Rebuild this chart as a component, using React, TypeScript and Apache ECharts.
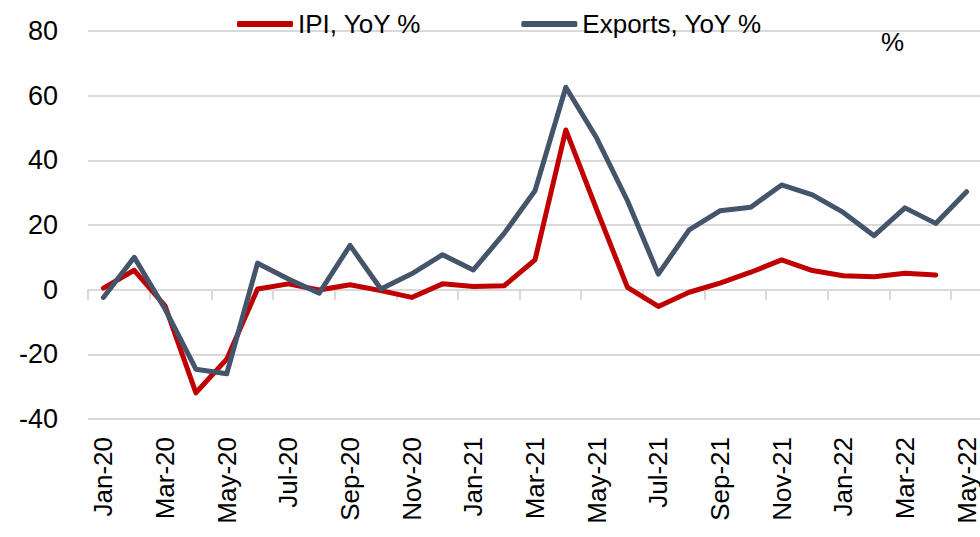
import React, { useEffect, useRef } from "react";
import * as echarts from "echarts";

const categories = [
  "Jan-20", "Feb-20", "Mar-20", "Apr-20", "May-20", "Jun-20", "Jul-20", "Aug-20", "Sep-20", "Oct-20", "Nov-20", "Dec-20",
  "Jan-21", "Feb-21", "Mar-21", "Apr-21", "May-21", "Jun-21", "Jul-21", "Aug-21", "Sep-21", "Oct-21", "Nov-21", "Dec-21",
  "Jan-22", "Feb-22", "Mar-22", "Apr-22", "May-22",
];

const ipiYoY: (number | null)[] = [
  0.5, 6.0, -5.0, -31.9, -21.5, 0.2, 1.8, -0.1, 1.5, -0.3, -2.4, 1.8,
  1.0, 1.2, 9.2, 49.4, 24.8, 0.7, -5.2, -0.8, 2.0, 5.4, 9.2, 5.9,
  4.3, 4.0, 5.1, 4.5, null,
];

const exportsYoY: number[] = [
  -2.4, 10.0, -6.0, -24.6, -26.0, 8.2, 3.3, -1.1, 13.7, 0.2, 4.9, 10.8,
  6.1, 17.4, 30.6, 62.6, 46.9, 27.5, 4.8, 18.5, 24.4, 25.5, 32.4, 29.3,
  23.9, 16.7, 25.3, 20.5, 30.3,
];

const seriesNames = ["IPI, YoY %", "Exports, YoY %"];
const yTicks = { min: -40, max: 80, interval: 20 };

export default function App() {
  const ref = useRef<HTMLDivElement>(null);

  useEffect(() => {
    if (!ref.current) return;
    const chart = echarts.init(ref.current, null, { renderer: "svg" });
    const font = "Liberation Sans";
    chart.setOption({
      animation: false,
      backgroundColor: "#ffffff",
      grid: { left: 88, right: -2, top: 31, bottom: 118, containLabel: false, outerBoundsMode: "none" },
      legend: {
        data: seriesNames,
        left: 232,
        top: 6,
        itemWidth: 56,
        itemHeight: 6,
        itemGap: 100,
        icon: "roundRect",
        textStyle: { fontFamily: font, fontSize: 26, color: "#000" },
      },
      graphic: [
        {
          type: "text",
          left: 881,
          top: 29,
          style: { text: "%", fontFamily: font, fontSize: 26, fill: "#000" },
        },
      ],
      xAxis: {
        type: "category",
        data: categories,
        boundaryGap: true,
        axisLine: { onZero: true, lineStyle: { color: "#d9d9d9", width: 2 } },
        axisTick: { show: true, interval: 1, length: 10, lineStyle: { color: "#d9d9d9", width: 2 } },
        axisLabel: {
          interval: 1,
          rotate: 90,
          margin: 18,
          fontFamily: font,
          fontSize: 26,
          color: "#000",
        },
        splitLine: { show: false },
      },
      yAxis: {
        type: "value",
        min: yTicks.min,
        max: yTicks.max,
        interval: yTicks.interval,
        axisLine: { show: false },
        axisTick: { show: false },
        axisLabel: { margin: 30, fontFamily: font, fontSize: 27, color: "#000" },
        splitLine: { show: true, lineStyle: { color: "#d9d9d9", width: 2 } },
      },
      series: [
        {
          name: seriesNames[0],
          type: "line",
          data: ipiYoY,
          symbol: "none",
          lineStyle: { color: "#C00000", width: 5, cap: "round", join: "round" },
          itemStyle: { color: "#C00000" },
          z: 3,
        },
        {
          name: seriesNames[1],
          type: "line",
          data: exportsYoY,
          symbol: "none",
          lineStyle: { color: "#44546A", width: 5, cap: "round", join: "round" },
          itemStyle: { color: "#44546A" },
          z: 4,
        },
      ],
    });
    return () => chart.dispose();
  }, []);

  return (
    <div
      ref={ref}
      style={{ position: "fixed", left: 0, top: 0, width: 980, height: 537 }}
    />
  );
}
